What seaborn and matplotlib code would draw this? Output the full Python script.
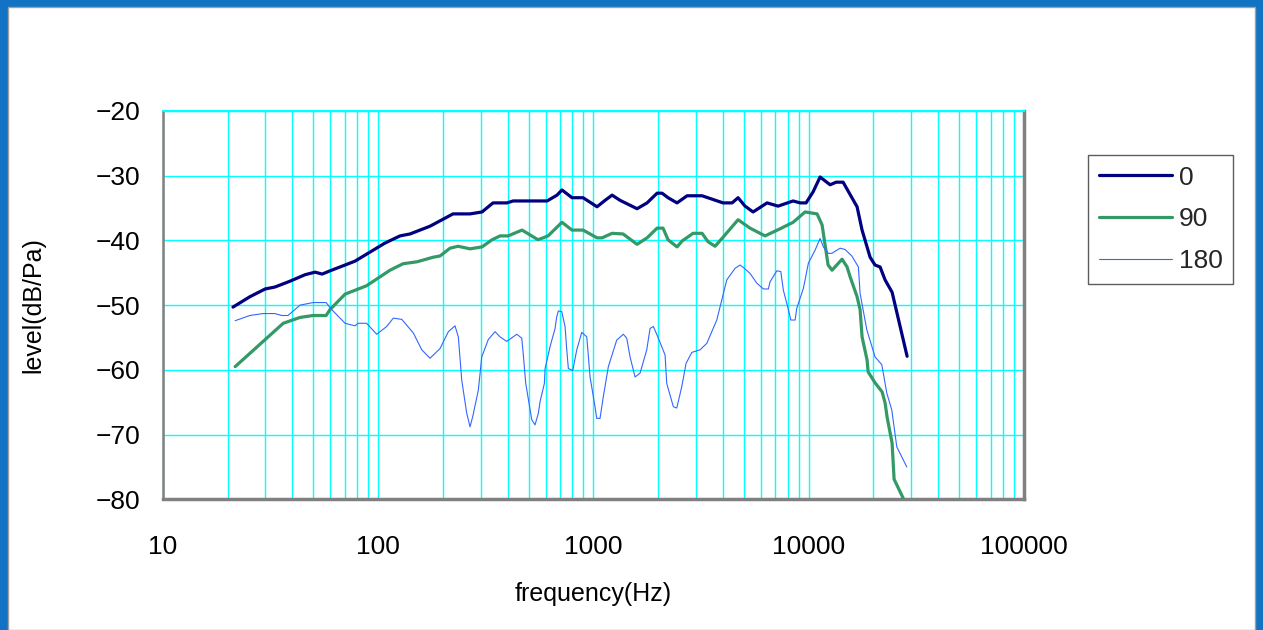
import numpy as np
import pandas as pd
import matplotlib
matplotlib.use("Agg")
import matplotlib.pyplot as plt
import seaborn as sns
from matplotlib.patches import Rectangle
from matplotlib.lines import Line2D
from matplotlib.ticker import FixedLocator, FixedFormatter, LogLocator, NullFormatter

# ---------------- data ----------------
freq_0 = [21.2, 25.4, 29.9, 33.2, 39.0, 45.8, 51.0, 55.0, 59.8, 70.3, 78.2, 91.8,
          107.8, 126.5, 140.8, 174.4, 223, 267.5, 304, 342, 397, 424, 610, 678,
          715, 796, 896, 1040, 1134, 1222, 1330, 1596, 1776, 1977, 2085, 2223,
          2447, 2724, 3198, 4004, 4409, 4700, 5065, 5518, 6410, 7210, 8465,
          9123, 9725, 10482, 11300, 12575, 13410, 14450, 16780, 17700, 19290,
          20340, 21460, 22640, 24400, 28650]
level_0 = [-50.3, -48.7, -47.5, -47.2, -46.3, -45.3, -44.9, -45.2, -44.7, -43.8,
           -43.2, -41.8, -40.4, -39.3, -39.0, -37.8, -35.9, -35.9, -35.6, -34.2,
           -34.2, -33.9, -33.9, -33.0, -32.2, -33.4, -33.4, -34.8, -33.8, -33.0,
           -33.8, -35.1, -34.2, -32.7, -32.7, -33.4, -34.2, -33.1, -33.1, -34.2,
           -34.2, -33.4, -34.7, -35.6, -34.2, -34.7, -33.9, -34.2, -34.2, -32.5,
           -30.2, -31.4, -31.0, -31.0, -34.8, -38.4, -42.6, -43.8, -44.1, -46.1,
           -48.0, -57.9]

freq_90 = [21.7, 36.3, 43.4, 49.9, 57.4, 59.8, 70.3, 88.5, 113.7, 130.7, 151.7,
           180.1, 194.1, 216, 235.3, 267.5, 304, 338.5, 368.7, 401.8, 466.6,
           553.5, 616, 715, 796, 896, 1040, 1098, 1222, 1374, 1596, 1776, 1977,
           2107, 2223, 2447, 2582, 2905, 3198, 3409, 3675, 4004, 4700, 5343,
           6272, 7364, 8465, 9623, 10940, 11540, 12310, 12840, 14290, 15080,
           15570, 16780, 17330, 17700, 18680, 18880, 20340, 21930, 22640, 23130,
           24400, 24930, 27450]
level_90 = [-59.5, -52.8, -51.9, -51.6, -51.6, -50.7, -48.3, -47.0, -44.6, -43.6,
            -43.3, -42.6, -42.4, -41.2, -40.9, -41.3, -41.0, -39.9, -39.3, -39.3,
            -38.4, -39.9, -39.3, -37.2, -38.4, -38.4, -39.6, -39.6, -38.9, -39.0,
            -40.6, -39.6, -38.1, -38.1, -39.9, -41.0, -40.1, -38.9, -38.9, -40.2,
            -40.9, -39.5, -36.8, -38.1, -39.3, -38.2, -37.2, -35.6, -35.9, -37.6,
            -43.8, -44.6, -42.9, -44.1, -45.6, -48.7, -50.7, -54.9, -58.5, -60.3,
            -62.0, -63.4, -65.1, -67.3, -71.3, -76.9, -79.8]

freq_180 = [21.7, 25.4, 29.2, 33.2, 35.7, 38.2, 43.4, 49.9, 57.4, 61.0, 70.3,
            78.2, 80.8, 88.5, 98.6, 109.7, 117.8, 128.9, 145.9, 159.6, 174.4,
            194.1, 212.1, 227.8, 236, 244.8, 258.2, 267.5, 275.4, 292.4, 303.2,
            325.3, 349.5, 368.7, 396, 441, 465, 473, 485.3, 517.6, 536, 555.4,
            565.6, 592.3, 596.8, 629.6, 664, 676, 687.8, 713.3, 738.9, 752.5,
            765.5, 802.4, 837.5, 883.4, 932, 965.4, 1018, 1037, 1074, 1113, 1174,
            1284, 1378, 1429, 1481, 1562, 1648, 1770, 1834, 1900, 2004, 2153,
            2192, 2353, 2440, 2574, 2695, 2865, 3131, 3364, 3743, 4165, 4552,
            4802, 5065, 5343, 5741, 6162, 6497, 6616, 7110, 7420, 7630, 8050,
            8260, 8648, 8805, 9450, 9970, 10710, 11300, 11700, 12350, 12810,
            13990, 14760, 15860, 17020, 17330, 18620, 20340, 21860, 23060,
            24320, 25660, 28550]
level_180 = [-52.4, -51.6, -51.3, -51.3, -51.6, -51.6, -50.0, -49.6, -49.6, -50.7,
             -52.8, -53.2, -52.8, -52.8, -54.5, -53.3, -52.0, -52.2, -54.3, -56.9,
             -58.2, -56.7, -54.1, -53.2, -54.9, -61.6, -66.7, -68.8, -67.2, -63.1,
             -58.0, -55.3, -54.1, -54.9, -55.6, -54.5, -55.1, -57.7, -62.1, -67.7,
             -68.5, -66.7, -64.9, -62.1, -59.8, -56.4, -53.6, -51.8, -50.9, -51.0,
             -53.3, -56.9, -59.8, -60.1, -56.9, -54.2, -54.9, -61.1, -65.7, -67.5,
             -67.5, -64.1, -59.5, -55.4, -54.5, -55.1, -58.0, -61.1, -60.5, -56.9,
             -53.6, -53.3, -55.1, -57.7, -62.1, -65.7, -65.9, -62.6, -59.0, -57.3,
             -56.9, -55.9, -52.3, -46.1, -44.3, -43.8, -44.4, -45.1, -46.6, -47.5,
             -47.5, -46.4, -44.7, -44.8, -47.7, -50.7, -52.3, -52.3, -50.5, -47.4,
             -43.5, -41.5, -39.7, -41.0, -42.0, -42.0, -41.2, -41.4, -42.4, -44.1,
             -48.2, -53.8, -58.0, -59.2, -63.6, -66.2, -71.9, -75.0]

series_names = ["0", "90", "180"]
x_ticks = [10, 100, 1000, 10000, 100000]
x_tick_labels = ["10", "100", "1000", "10000", "100000"]
y_ticks = [-80, -70, -60, -50, -40, -30, -20]
y_tick_labels = ["\u221280", "\u221270", "\u221260", "\u221250", "\u221240", "\u221230", "\u221220"]
x_label = "frequency(Hz)"
y_label = "level(dB/Pa)"

# ---------------- styling ----------------
sns.set_theme(style="white")
plt.rcParams["font.family"] = ["Liberation Sans", "DejaVu Sans"]

W, H = 1263, 630
fig = plt.figure(figsize=(W / 100, H / 100), dpi=100, facecolor="#1272C4")
bg = Rectangle((8 / W, 0), (W - 16) / W, (H - 7) / H,
               transform=fig.transFigure, facecolor="white",
               edgecolor="#a0a0a0", lw=1, zorder=-10)
fig.add_artist(bg)

ax = fig.add_axes([162.7 / W, (H - 499.3) / H, (1024 - 162.7) / W, (499.3 - 111) / H])
ax.set_zorder(1)
ax.set_facecolor("white")

colors = ["#000080", "#339966", "#3366FF"]
widths = [2.3, 2.3, 0.8]
data = [(freq_0, level_0), (freq_90, level_90), (freq_180, level_180)]
for (f, l), name, c, w in zip(data, series_names, colors, widths):
    df = pd.DataFrame({"freq": f, "level": l})
    sns.lineplot(data=df, x="freq", y="level", ax=ax, color=c, lw=w,
                 sort=False, estimator=None, zorder=3)

ax.set_xscale("log")
ax.set_xlim(10, 100000)
ax.set_ylim(-80, -20)
ax.xaxis.set_major_locator(FixedLocator(x_ticks))
ax.xaxis.set_major_formatter(FixedFormatter(x_tick_labels))
ax.xaxis.set_minor_locator(LogLocator(base=10, subs=range(2, 10)))
ax.xaxis.set_minor_formatter(NullFormatter())
ax.yaxis.set_major_locator(FixedLocator(y_ticks))
ax.yaxis.set_major_formatter(FixedFormatter(y_tick_labels))

ax.grid(which="both", axis="x", color="#00FFFF", lw=1.0)
ax.grid(which="major", axis="y", color="#00FFFF", lw=1.0)
ax.set_axisbelow(True)

ax.tick_params(axis="x", which="both", length=0, pad=26, labelsize=19, labelcolor="black")
ax.tick_params(axis="y", which="both", length=0, pad=16, labelsize=19, labelcolor="black")

ax.set_xlabel(x_label, fontsize=18, labelpad=16, color="black")
ax.set_ylabel(y_label, fontsize=18, labelpad=36, color="black")

for side in ["left", "bottom", "right"]:
    ax.spines[side].set_visible(True)
    ax.spines[side].set_color("#808080")
ax.spines["left"].set_linewidth(1.8)
ax.spines["bottom"].set_linewidth(2.5)
ax.spines["right"].set_linewidth(2.5)
ax.spines["top"].set_color("#00FFFF")
ax.spines["top"].set_linewidth(1.5)

handles = [Line2D([], [], color=c, lw=w) for c, w in zip(colors, widths)]
leg = ax.legend(handles, series_names, loc="upper left",
                bbox_to_anchor=(1088 / W, 1 - 155 / H), bbox_transform=fig.transFigure,
                frameon=True, fancybox=False, edgecolor="#333333", fontsize=19,
                handlelength=2.8, handletextpad=0.25, labelspacing=0.68,
                borderpad=0.4, borderaxespad=0)
leg.get_frame().set_linewidth(1.0)
leg.get_frame().set_facecolor("white")

fig.savefig("out.png", dpi=100, facecolor=fig.get_facecolor())
